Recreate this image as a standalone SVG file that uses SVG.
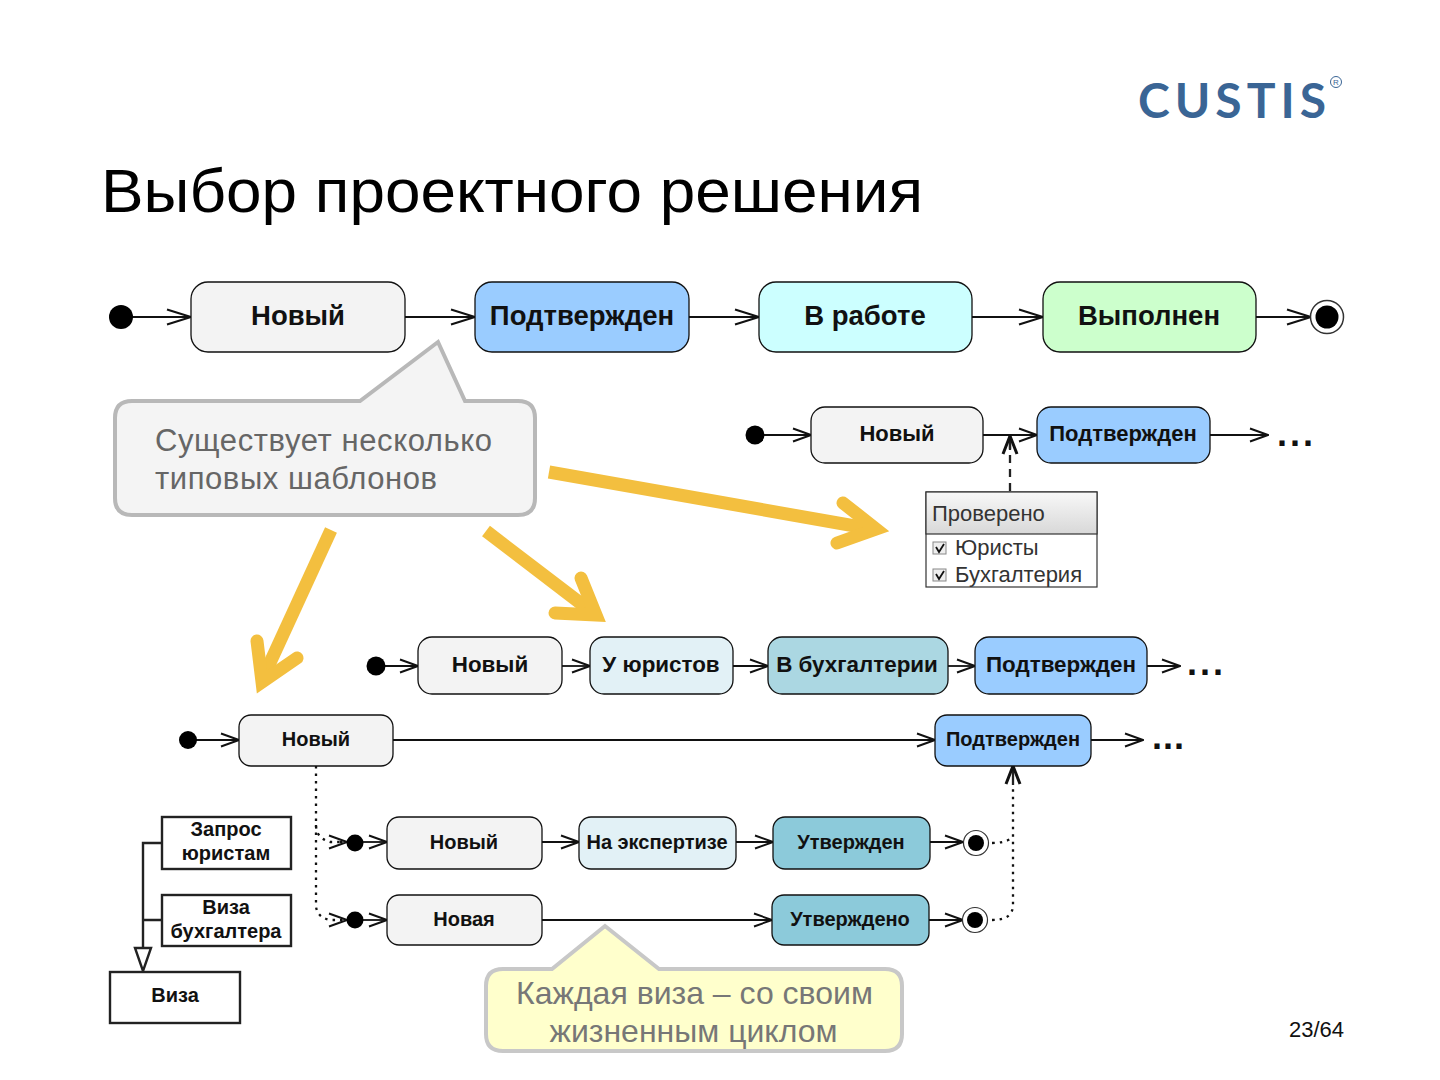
<svg xmlns="http://www.w3.org/2000/svg" width="1440" height="1080" viewBox="0 0 1440 1080">
<style>
text{font-family:"Liberation Sans",Arial,sans-serif}
.n{stroke:#111;stroke-width:1.3}
.b{font-weight:700;fill:#111;text-anchor:middle}
.f0{fill:#f3f3f3}.f1{fill:#9accff}.f2{fill:#ccffff}.f3{fill:#ccffcc}.f4{fill:#e2f1f6}.f5{fill:#abd7e2}.f6{fill:#8ccada}
.c{fill:none;stroke:#111;stroke-width:1.8}
.w{fill:none;stroke:#222;stroke-width:2.300}
.d{fill:none;stroke:#111;stroke-width:2.300;stroke-dasharray:2.500 5}
.y{fill:none;stroke:#f3bf3f;stroke-width:13}
.h{stroke-linecap:round;stroke-linejoin:miter;stroke-miterlimit:10}
.box{fill:#fff;stroke:#222;stroke-width:2.400}
.dots{font-size:36px;font-weight:700;fill:#111;letter-spacing:3px}
</style>
<defs>
<linearGradient id="hd" x1="0" y1="0" x2="0" y2="1"><stop offset="0" stop-color="#f8f8f8"/><stop offset="1" stop-color="#d8d8d8"/></linearGradient>
<marker id="o" markerUnits="userSpaceOnUse" viewBox="0 0 26 18" refX="25" refY="9" markerWidth="26" markerHeight="18" orient="auto"><path d="M1 1.500L25 9L1 16.500" fill="none" stroke="#111" stroke-width="2.200"/></marker>
<marker id="s" markerUnits="userSpaceOnUse" viewBox="0 0 20 16" refX="19" refY="8" markerWidth="20" markerHeight="16" orient="auto"><path d="M1 1.500L19 8L1 14.500" fill="none" stroke="#111" stroke-width="1.900"/></marker>
<marker id="t" markerUnits="userSpaceOnUse" viewBox="0 0 20 18" refX="19" refY="9" markerWidth="20" markerHeight="18" orient="auto"><path d="M1 2L19 9L1 16" fill="none" stroke="#111" stroke-width="3"/></marker>
</defs>
<rect width="1440" height="1080" fill="#fff"/>

<g id="logo">
<text x="1138" y="118" font-size="48" font-weight="700" fill="#3a6595" textLength="188" lengthAdjust="spacing" style="font-family:Lato,'Liberation Sans',sans-serif">CUSTIS</text>
<circle cx="1336" cy="82" r="5.500" fill="none" stroke="#3a6595"/>
<text x="1336" y="85" font-size="8" fill="#3a6595" text-anchor="middle">R</text>
</g>
<text id="title" x="101" y="212" font-size="61" fill="#000" textLength="822" lengthAdjust="spacingAndGlyphs">Выбор проектного решения</text>
<text id="page" x="1344" y="1037" font-size="22" fill="#111" text-anchor="end">23/64</text>

<g id="connectors">
<path class="c" marker-end="url(#o)" d="M121 317H191"/>
<path class="c" marker-end="url(#o)" d="M405 317H475"/>
<path class="c" marker-end="url(#o)" d="M689 317H759"/>
<path class="c" marker-end="url(#o)" d="M972 317H1043"/>
<path class="c" marker-end="url(#o)" d="M1256 317H1311"/>
<path class="c" marker-end="url(#s)" d="M755 435H811"/>
<path class="c" marker-end="url(#s)" d="M983 435H1037"/>
<path class="c" marker-end="url(#s)" d="M1210 435H1268"/>
<path class="w" stroke-dasharray="8 6" d="M1010 491V440"/>
<path class="w" marker-end="url(#t)" d="M1010 450V436"/>
<path class="c" marker-end="url(#s)" d="M376 666H418"/>
<path class="c" marker-end="url(#s)" d="M562 666H590"/>
<path class="c" marker-end="url(#s)" d="M733 666H768"/>
<path class="c" marker-end="url(#s)" d="M948 666H975"/>
<path class="c" marker-end="url(#s)" d="M1147 666H1180"/>
<path class="c" marker-end="url(#s)" d="M188 740H239"/>
<path class="c" marker-end="url(#s)" d="M393 740H935"/>
<path class="c" marker-end="url(#s)" d="M1091 740H1143"/>
<path class="d" d="M316 766V825Q316 838 330 842H340"/>
<path class="d" d="M316 825V905Q316 917 330 920H340"/>
<path class="d" marker-end="url(#s)" d="M340 842H347"/>
<path class="d" marker-end="url(#s)" d="M340 920H347"/>
<path class="c" marker-end="url(#s)" d="M355 842H387"/>
<path class="c" marker-end="url(#s)" d="M355 920H387"/>
<path class="c" marker-end="url(#s)" d="M542 842H579"/>
<path class="c" marker-end="url(#s)" d="M736 842H773"/>
<path class="c" marker-end="url(#s)" d="M930 842H963"/>
<path class="c" marker-end="url(#s)" d="M542 920H772"/>
<path class="c" marker-end="url(#s)" d="M929 920H963"/>
<path class="d" d="M992 843Q1006 843 1013 837"/>
<path class="d" d="M992 920Q1013 920 1013 905V785"/>
<path class="w" marker-end="url(#t)" d="M1013 785V766"/>
<path fill="none" stroke="#222" stroke-width="2.400" d="M162 843H143V948M162 920H143"/>
<path fill="#fff" stroke="#222" stroke-width="2.400" d="M135 948H151L143 971Z"/>
</g>

<g id="a1"><rect class="n f0" x="191" y="282" width="214" height="70" rx="17"/><text class="b" x="298" y="325" font-size="27.500">Новый</text></g>
<g id="a2"><rect class="n f1" x="475" y="282" width="214" height="70" rx="17"/><text class="b" x="582" y="325" font-size="27.500">Подтвержден</text></g>
<g id="a3"><rect class="n f2" x="759" y="282" width="213" height="70" rx="17"/><text class="b" x="865" y="325" font-size="27.500">В работе</text></g>
<g id="a4"><rect class="n f3" x="1043" y="282" width="213" height="70" rx="17"/><text class="b" x="1149" y="325" font-size="27.500">Выполнен</text></g>
<g id="a-start"><circle cx="121" cy="317" r="12" fill="#000"/></g>
<g id="a-end"><circle cx="1327" cy="317" r="16.500" fill="#fff" stroke="#333" stroke-width="1.500"/><circle cx="1327" cy="317" r="11.500" fill="#000"/></g>

<g id="b1"><rect class="n f0" x="811" y="407" width="172" height="56" rx="14"/><text class="b" x="897" y="441" font-size="22">Новый</text></g>
<g id="b2"><rect class="n f1" x="1037" y="407" width="173" height="56" rx="14"/><text class="b" x="1123" y="441" font-size="22">Подтвержден</text></g>
<g id="b-start"><circle cx="755" cy="435" r="9.500" fill="#000"/></g>
<text class="dots" x="1277" y="446">...</text>

<g id="checked">
<rect x="926" y="492" width="171" height="95" fill="#fff" stroke="#333" stroke-width="1.200"/>
<rect x="926" y="492" width="171" height="42" fill="url(#hd)" stroke="#333" stroke-width="1.200"/>
<text x="932" y="521" font-size="22" fill="#333">Проверено</text>
<rect x="933" y="542" width="13" height="12" fill="#eee" stroke="#888"/>
<path d="M936 547L939 552L944 544" fill="none" stroke="#111" stroke-width="1.800"/>
<text x="955" y="555" font-size="22" fill="#333">Юристы</text>
<rect x="933" y="569" width="13" height="12" fill="#eee" stroke="#888"/>
<path d="M936 574L939 579L944 571" fill="none" stroke="#111" stroke-width="1.800"/>
<text x="955" y="582" font-size="22" fill="#333">Бухгалтерия</text>
</g>

<g id="c1"><rect class="n f0" x="418" y="637" width="144" height="57" rx="14"/><text class="b" x="490" y="672" font-size="22.400">Новый</text></g>
<g id="c2"><rect class="n f4" x="590" y="637" width="143" height="57" rx="14"/><text class="b" x="661" y="672" font-size="22.400">У юристов</text></g>
<g id="c3"><rect class="n f5" x="768" y="637" width="180" height="57" rx="14"/><text class="b" x="857" y="672" font-size="22.400">В бухгалтерии</text></g>
<g id="c4"><rect class="n f1" x="975" y="637" width="172" height="57" rx="14"/><text class="b" x="1061" y="672" font-size="22.400">Подтвержден</text></g>
<g id="c-start"><circle cx="376" cy="666" r="9.500" fill="#000"/></g>
<text class="dots" x="1187" y="675">...</text>

<g id="d1"><rect class="n f0" x="239" y="715" width="154" height="51" rx="12"/><text class="b" x="316" y="746" font-size="20">Новый</text></g>
<g id="d2"><rect class="n f1" x="935" y="715" width="156" height="51" rx="12"/><text class="b" x="1013" y="746" font-size="20">Подтвержден</text></g>
<g id="d-start"><circle cx="188" cy="740" r="9" fill="#000"/></g>
<text class="dots" x="1152" y="749" style="letter-spacing:1px">...</text>

<g id="e1"><rect class="n f0" x="387" y="817" width="155" height="52" rx="12"/><text class="b" x="464" y="849" font-size="20">Новый</text></g>
<g id="e2"><rect class="n f4" x="579" y="817" width="157" height="52" rx="12"/><text class="b" x="657" y="849" font-size="20">На экспертизе</text></g>
<g id="e3"><rect class="n f6" x="773" y="817" width="157" height="52" rx="12"/><text class="b" x="851" y="849" font-size="20">Утвержден</text></g>
<g id="f1"><rect class="n f0" x="387" y="895" width="155" height="50" rx="12"/><text class="b" x="464" y="926" font-size="20">Новая</text></g>
<g id="f2"><rect class="n f6" x="772" y="895" width="157" height="50" rx="12"/><text class="b" x="850" y="926" font-size="20">Утверждено</text></g>
<g id="e-start"><circle cx="355" cy="843" r="8.500" fill="#000"/></g>
<g id="f-start"><circle cx="355" cy="920" r="8.500" fill="#000"/></g>
<g id="e-end"><circle cx="976" cy="843" r="12.500" fill="#fff" stroke="#333" stroke-width="1.200"/><circle cx="976" cy="843" r="8" fill="#000"/></g>
<g id="f-end"><circle cx="975" cy="920" r="12.500" fill="#fff" stroke="#333" stroke-width="1.200"/><circle cx="975" cy="920" r="8" fill="#000"/></g>

<g id="g1"><rect class="box" x="162" y="817" width="129" height="52"/><text class="b" x="226" y="836" font-size="20">Запрос</text><text class="b" x="226" y="860" font-size="20">юристам</text></g>
<g id="g2"><rect class="box" x="162" y="895" width="129" height="51"/><text class="b" x="226" y="914" font-size="20">Виза</text><text class="b" x="226" y="938" font-size="20">бухгалтера</text></g>
<g id="g3"><rect class="box" x="110" y="972" width="130" height="51"/><text class="b" x="175" y="1002" font-size="20">Виза</text></g>

<g id="note1">
<path d="M132 401H360L438 342L465 401H518Q535 401 535 418V498Q535 515 518 515H132Q115 515 115 498V418Q115 401 132 401Z" fill="#f4f4f4" stroke="#b8b8b8" stroke-width="4"/>
<text x="155" y="451" font-size="31" fill="#666" textLength="337">Существует несколько</text>
<text x="155" y="489" font-size="31" fill="#666" textLength="282">типовых шаблонов</text>
</g>
<g id="note2">
<path d="M503 969H552L605 926L659 969H885Q902 969 902 986V1034Q902 1051 885 1051H503Q486 1051 486 1034V986Q486 969 503 969Z" fill="#ffffcc" stroke="#c8c8c8" stroke-width="4"/>
<text x="694.500" y="1004" font-size="32" fill="#777" text-anchor="middle">Каждая виза – со своим</text>
<text x="693.500" y="1042" font-size="32" fill="#777" text-anchor="middle">жизненным циклом</text>
</g>

<g id="arrows">
<path class="y" d="M549 472L872 529"/><path class="y h" d="M843 503L876 529L837 543"/>
<path class="y" d="M486 531L592 612"/><path class="y h" d="M581 578L596 615L555 613"/>
<path class="y" d="M331 530L263 678"/><path class="y h" d="M257 641L262 682L297 658"/>
</g>
</svg>
